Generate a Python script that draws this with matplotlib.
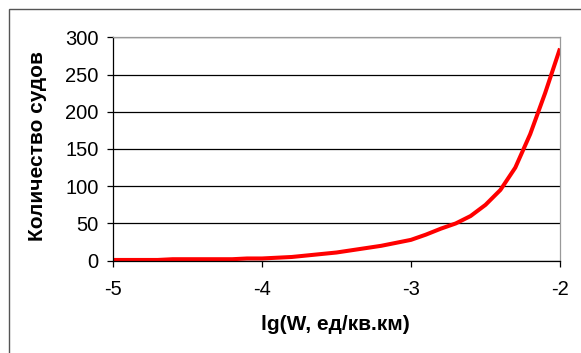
# -*- coding: utf-8 -*-

import matplotlib
matplotlib.use("Agg")
import matplotlib.pyplot as plt
import matplotlib.patches as mpatches

plt.rcParams['font.family'] = ['Liberation Sans', 'DejaVu Sans']

# lg(W) and number of ships
lg_w = [-5.0, -4.9, -4.8, -4.7, -4.6, -4.5, -4.4, -4.3, -4.2, -4.1, -4.0,
        -3.9, -3.8, -3.7, -3.6, -3.5, -3.4, -3.3, -3.2, -3.1, -3.0,
        -2.9, -2.8, -2.7, -2.6, -2.5, -2.4, -2.3, -2.2, -2.1, -2.0]
ships = [1, 1, 1, 1, 2, 2, 2, 2, 2, 3, 3,
         4, 5, 7, 9, 11, 14, 17, 20, 24, 28,
         35, 43, 50, 60, 75, 95, 125, 170, 225, 285]

x_ticks = [-5, -4, -3, -2]
y_ticks = [0, 50, 100, 150, 200, 250, 300]

W, H = 581, 353
fig = plt.figure(figsize=(W / 100, H / 100), dpi=100)

# outer chart frame (runs off the right and bottom edges)
frame = mpatches.Rectangle((8.5 / W, -0.2), 1.5, 1.2 - 8.5 / H,
                           transform=fig.transFigure, fill=False,
                           edgecolor='#555555', linewidth=1.0)
fig.patches.append(frame)

ax = fig.add_axes([113 / W, 1 - 260.7 / H, (560 - 113) / W, (260.7 - 37.3) / H])

ax.plot(lg_w, ships, color='#ff0000', linewidth=2.9, solid_capstyle='butt')

ax.set_xlim(-5, -2)
ax.set_ylim(0, 300)
ax.set_xticks(x_ticks)
ax.set_yticks(y_ticks)
ax.set_xticklabels([str(t) for t in x_ticks])

ax.yaxis.grid(True, color='black', linewidth=0.9)
ax.set_axisbelow(True)

for side in ['left', 'bottom']:
    ax.spines[side].set_color('black')
    ax.spines[side].set_linewidth(0.9)
for side in ['top', 'right']:
    ax.spines[side].set_color('#999999')
    ax.spines[side].set_linewidth(0.9)

ax.tick_params(axis='y', direction='out', length=4.5, width=0.9,
               labelsize=14.5, pad=6)
ax.tick_params(axis='x', direction='out', length=4, width=0.9,
               labelsize=14.5, pad=10)

fig.text(38 / W, 1 - 146 / H, 'Количество судов', rotation=90,
         ha='center', va='center', fontsize=15, fontweight='bold')
fig.text(335 / W, 1 - 325 / H, 'lg(W, ед/кв.км)',
         ha='center', va='center', fontsize=15, fontweight='bold')

fig.savefig('out.png', dpi=100)
